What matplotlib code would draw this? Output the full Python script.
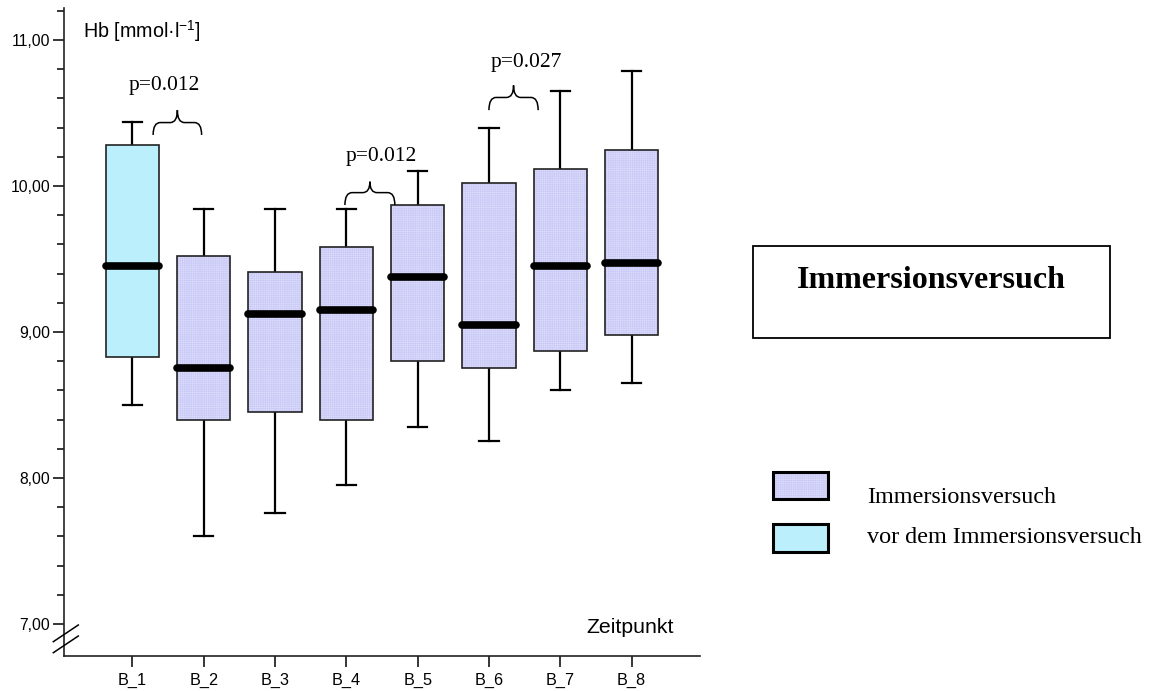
import numpy as np
import matplotlib.pyplot as plt
from matplotlib.patches import PathPatch, Rectangle
from matplotlib.path import Path
from matplotlib.lines import Line2D
from matplotlib.ticker import FixedLocator, FuncFormatter

plt.rcParams['font.family'] = ['Liberation Sans', 'DejaVu Sans']
plt.rcParams['mathtext.default'] = 'regular'
plt.rcParams['hatch.linewidth'] = 0.45

# Hb per time point (box = quartiles, whiskers = range)
labels = ['B_1', 'B_2', 'B_3', 'B_4', 'B_5', 'B_6', 'B_7', 'B_8']
whis_hi = [10.44, 9.84, 9.84, 9.84, 10.10, 10.40, 10.65, 10.79]
q3 = [10.28, 9.52, 9.41, 9.58, 9.87, 10.02, 10.12, 10.25]
med = [9.45, 8.75, 9.12, 9.15, 9.38, 9.05, 9.45, 9.47]
q1 = [8.83, 8.40, 8.45, 8.40, 8.80, 8.75, 8.87, 8.98]
whis_lo = [8.50, 7.60, 7.76, 7.95, 8.35, 8.25, 8.60, 8.65]
baseline_flag = [True, False, False, False, False, False, False, False]

# significance brackets: (left x, right x, end y, bar y, tip y, text x, text y, label)
brackets = [
    (1.29, 1.97, 10.35, 10.435, 10.52, 1.45, 10.69, 'p=0.012'),
    (3.98, 4.68, 9.87, 9.955, 10.03, 4.49, 10.20, 'p=0.012'),
    (6.00, 6.69, 10.52, 10.607, 10.69, 6.52, 10.85, 'p=0.027'),
]

# fill colour, hatch colour, hatch pattern
style_pre = ('#c9f5fd', '#b2ecfa', '|' * 16)
style_imm = ('#dedefd', '#cacaf6', '+' * 9)

fig = plt.figure(figsize=(11.52, 6.91), dpi=100)
ax = fig.add_axes([64 / 1152, 35 / 691, 636 / 1152, 648 / 691])

positions = np.arange(1, len(labels) + 1)
stats = [dict(med=m, q1=a, q3=b, whislo=lo, whishi=hi, fliers=[])
         for m, a, b, lo, hi in zip(med, q1, q3, whis_lo, whis_hi)]

res = ax.bxp(stats, positions=positions, widths=0.75, patch_artist=True,
             showfliers=False, capwidths=0.27,
             boxprops=dict(facecolor='none', edgecolor='#222222', linewidth=1.2),
             whiskerprops=dict(color='black', linewidth=1.6),
             capprops=dict(color='black', linewidth=1.6),
             medianprops=dict(color='black', linewidth=5.5, solid_capstyle='round'))

# textured fills under the outlined boxes
for box, pre in zip(res['boxes'], baseline_flag):
    box.set_zorder(3)
    fc, hc, hatch = style_pre if pre else style_imm
    ax.add_patch(PathPatch(box.get_path(), facecolor=fc, edgecolor=hc,
                           hatch=hatch, linewidth=0, zorder=2))
for m in res['medians']:
    m.set_zorder(4)

ax.set_xlim(0.04, 8.96)
ax.set_ylim(6.78, 11.22)
ax.set_xticks(positions)
ax.set_xticklabels(labels, fontsize=11.7)
ax.yaxis.set_major_locator(FixedLocator([7, 8, 9, 10, 11]))
ax.yaxis.set_minor_locator(FixedLocator(np.round(np.arange(7.0, 11.21, 0.2), 2)))
ax.yaxis.set_major_formatter(FuncFormatter(lambda v, p: f'{v:.2f}'.replace('.', ',')))
ax.tick_params(axis='y', which='major', length=8, width=1.1, labelsize=11.3, pad=2)
ax.tick_params(axis='y', which='minor', length=5, width=1.1)
ax.tick_params(axis='x', length=8, width=1.1, pad=4)
for side in ['top', 'right']:
    ax.spines[side].set_visible(False)
for side in ['left', 'bottom']:
    ax.spines[side].set_linewidth(1.2)
    ax.spines[side].set_color('#222222')


def brace(x0, x1, y_end, y_bar, y_tip, r=0.1):
    xm = (x0 + x1) / 2
    verts = [(x0, y_end), (x0, y_bar), (x0 + r, y_bar), (xm - r, y_bar),
             (xm, y_bar), (xm, y_tip),
             (xm, y_tip), (xm, y_bar), (xm + r, y_bar), (x1 - r, y_bar),
             (x1, y_bar), (x1, y_end)]
    codes = [Path.MOVETO, Path.CURVE3, Path.CURVE3, Path.LINETO,
             Path.CURVE3, Path.CURVE3,
             Path.MOVETO, Path.CURVE3, Path.CURVE3, Path.LINETO,
             Path.CURVE3, Path.CURVE3]
    ax.add_patch(PathPatch(Path(verts, codes), facecolor='none',
                           edgecolor='black', linewidth=1.1, zorder=5))


for x0, x1, ye, yb, yt, tx, ty, txt in brackets:
    brace(x0, x1, ye, yb, yt)
    ax.text(tx, ty, txt, ha='center', va='center', fontsize=15.5,
            family='Liberation Serif')

# axis captions
fig.text(83 / 1152, 1 - 38 / 691, r'Hb [mmol·l$^{-1}$]', fontsize=14.2,
         ha='left', va='baseline')
fig.text(586 / 1152, 1 - 633 / 691, 'Zeitpunkt', fontsize=15.3,
         ha='left', va='baseline')

# axis break marks
for y0, y1 in [(641.7, 625), (652.7, 636)]:
    fig.add_artist(Line2D([53.3 / 1152, 78.3 / 1152], [1 - y0 / 691, 1 - y1 / 691],
                          color='black', linewidth=1.1))

# title box
fig.add_artist(Rectangle((753 / 1152, 1 - 337.7 / 691), 357 / 1152, 91.7 / 691,
                         facecolor='white', edgecolor='black', linewidth=1.3))
fig.text(931.5 / 1152, 1 - 288 / 691, 'Immersionsversuch', ha='center',
         va='baseline', fontsize=23, fontweight='bold', family='Liberation Serif')

# legend
legend_items = [('Immersionsversuch', style_imm, 472, 499, 503),
                ('vor dem Immersionsversuch', style_pre, 524, 552, 543)]
for txt, (fc, hc, hatch), top, bot, base in legend_items:
    fig.add_artist(Rectangle((773 / 1152, 1 - bot / 691), 55 / 1152, (bot - top) / 691,
                             facecolor=fc, edgecolor=hc, hatch=hatch, linewidth=0))
    fig.add_artist(Rectangle((773 / 1152, 1 - bot / 691), 55 / 1152, (bot - top) / 691,
                             facecolor='none', edgecolor='black', linewidth=2.2))
    fig.text(867 / 1152, 1 - base / 691, txt, ha='left', va='baseline',
             fontsize=17.4, family='Liberation Serif')

fig.savefig('out.png', dpi=100)
